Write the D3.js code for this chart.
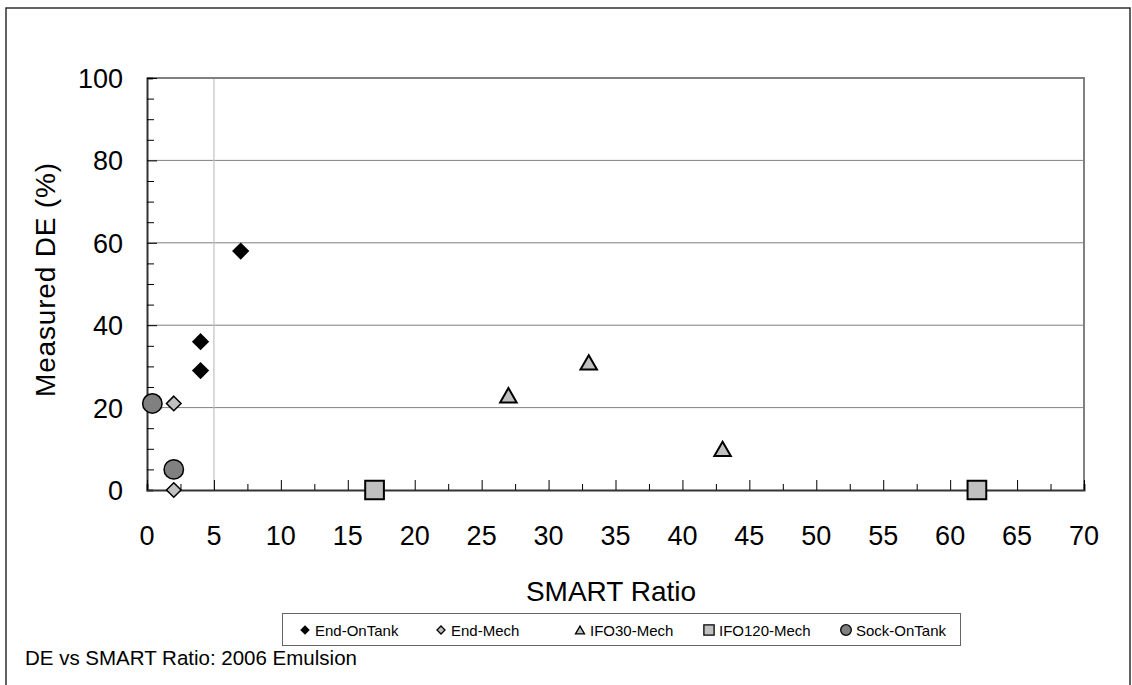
<!DOCTYPE html>
<html>
<head>
<meta charset="utf-8">
<script src="https://cdn.jsdelivr.net/npm/d3@7"></script>
<style>
  body { margin: 0; background: #fff; }
  text { font-family: "Liberation Sans", Arial, sans-serif; fill: #000; }
</style>
</head>
<body>
<div id="chart"></div>
<script>
// Series data (SMART ratio, measured DE %)
const endOnTank  = [[4, 36], [4, 29], [7, 58]];
const endMech    = [[2, 21], [2, 0]];
const ifo30Mech  = [[27, 23], [33, 31], [43, 10]];
const ifo120Mech = [[17, 0], [62, 0]];
const sockOnTank = [[0.4, 21], [2, 5]];

const seriesNames = ["End-OnTank", "End-Mech", "IFO30-Mech", "IFO120-Mech", "Sock-OnTank"];
const xTicks = d3.range(0, 71, 5);
const yTicks = [0, 20, 40, 60, 80, 100];

// Triangle centred on its bounding box (Excel style)
const triangleBox = {
  draw(ctx, size) {
    const s = Math.sqrt(size / (Math.sqrt(3) * 3));
    const h = 3 * s, w = 2 * Math.sqrt(3) * s;
    ctx.moveTo(0, -h / 2); ctx.lineTo(w / 2, h / 2); ctx.lineTo(-w / 2, h / 2); ctx.closePath();
  }
};

// Marker styles per series
const styles = {
  "End-OnTank":  { sym: d3.symbolDiamond2, size: 190, fill: "#000000", sw: 0 },
  "End-Mech":    { sym: d3.symbolDiamond2, size: 136, fill: "#c0c0c0", sw: 1.5 },
  "IFO30-Mech":  { sym: triangleBox,       size: 118, fill: "#c0c0c0", sw: 2 },
  "IFO120-Mech": { sym: d3.symbolSquare,   size: 350, fill: "#c0c0c0", sw: 2 },
  "Sock-OnTank": { sym: d3.symbolCircle,   size: 296, fill: "#808080", sw: 1.5 }
};
const allSeries = [endOnTank, endMech, ifo30Mech, ifo120Mech, sockOnTank];

const W = 1132, H = 685;
const m = { left: 147, right: 1084, top: 78, bottom: 490 };

const svg = d3.select("#chart").append("svg").attr("width", W).attr("height", H);

// Outer chart frame
svg.append("rect").attr("x", 6).attr("y", 8).attr("width", 1124).attr("height", 700)
  .attr("fill", "none").attr("stroke", "#222").attr("stroke-width", 1.4);

const x = d3.scaleLinear().domain([0, 70]).range([m.left, m.right]);
const y = d3.scaleLinear().domain([0, 100]).range([m.bottom, m.top]);

// Horizontal gridlines
svg.append("g").selectAll("line").data(yTicks.filter(d => d > 0 && d < 100)).join("line")
  .attr("x1", m.left).attr("x2", m.right).attr("y1", d => y(d)).attr("y2", d => y(d))
  .attr("stroke", "#808080").attr("stroke-width", 1);

// Vertical reference line at x = 5
svg.append("line").attr("x1", x(5)).attr("x2", x(5)).attr("y1", m.top).attr("y2", m.bottom)
  .attr("stroke", "#c0c0c0").attr("stroke-width", 1.2);

// Plot area border (top & right)
svg.append("path")
  .attr("d", `M${m.left},${m.top}H${m.right}V${m.bottom}`)
  .attr("fill", "none").attr("stroke", "#808080").attr("stroke-width", 2);

// Y axis with inside ticks
const yAxis = svg.append("g").attr("transform", `translate(${m.left},0)`);
yAxis.call(d3.axisRight(y).tickValues(d3.range(0, 101, 5)).tickSize(6).tickFormat(""));
yAxis.selectAll(".tick line").attr("stroke", "#000").attr("stroke-width", 1)
  .attr("x2", d => d % 20 === 0 ? 10 : 7);
yAxis.select(".domain").attr("stroke", "#333").attr("stroke-width", 2);
yAxis.append("g").selectAll("text").data(yTicks).join("text")
  .attr("x", -24).attr("y", d => y(d) + 10).attr("text-anchor", "end")
  .style("font-size", "27px").text(d => d);

// X axis with inside ticks
const xAxis = svg.append("g").attr("transform", `translate(0,${m.bottom})`);
xAxis.call(d3.axisTop(x).tickValues(d3.range(0, 70.1, 2.5)).tickSize(6).tickFormat(""));
xAxis.selectAll(".tick line").attr("stroke", "#000").attr("stroke-width", 1)
  .attr("y2", d => d % 5 === 0 ? -10 : -6);
xAxis.select(".domain").attr("stroke", "#333").attr("stroke-width", 2);
xAxis.append("g").selectAll("text").data(xTicks).join("text")
  .attr("x", d => x(d)).attr("y", 55).attr("text-anchor", "middle")
  .style("font-size", "27px").text(d => d);

// Axis titles
svg.append("text").attr("x", 611).attr("y", 601).attr("text-anchor", "middle")
  .style("font-size", "28px").text("SMART Ratio");
svg.append("text").attr("transform", "translate(55,280) rotate(-90)")
  .attr("text-anchor", "middle").style("font-size", "28px")
  .attr("textLength", 234).attr("lengthAdjust", "spacing").text("Measured DE (%)");

// Markers
seriesNames.forEach((name, i) => {
  const st = styles[name];
  svg.append("g").selectAll("path").data(allSeries[i]).join("path")
    .attr("transform", d => `translate(${x(d[0])},${y(d[1])})`)
    .attr("d", d3.symbol().type(st.sym).size(st.size))
    .attr("fill", st.fill).attr("stroke", "#000").attr("stroke-width", st.sw);
});

// Legend
const legend = svg.append("g");
legend.append("rect").attr("x", 282.5).attr("y", 613.5).attr("width", 678).attr("height", 32)
  .attr("fill", "#fff").attr("stroke", "#666").attr("stroke-width", 1);
const legendX = [305, 441, 580, 709, 846];
seriesNames.forEach((name, i) => {
  const st = styles[name];
  const g = legend.append("g").attr("transform", `translate(${legendX[i]},630)`);
  g.append("path").attr("d", d3.symbol().type(st.sym).size(st.size * 0.3))
    .attr("fill", st.fill).attr("stroke", "#000").attr("stroke-width", st.sw ? 1.3 : 0);
  g.append("text").attr("x", 10).attr("y", 5.5).style("font-size", "15px").text(name);
});

// Caption
svg.append("text").attr("x", 25).attr("y", 665).style("font-size", "20.5px")
  .text("DE vs SMART Ratio: 2006 Emulsion");
</script>
</body>
</html>
